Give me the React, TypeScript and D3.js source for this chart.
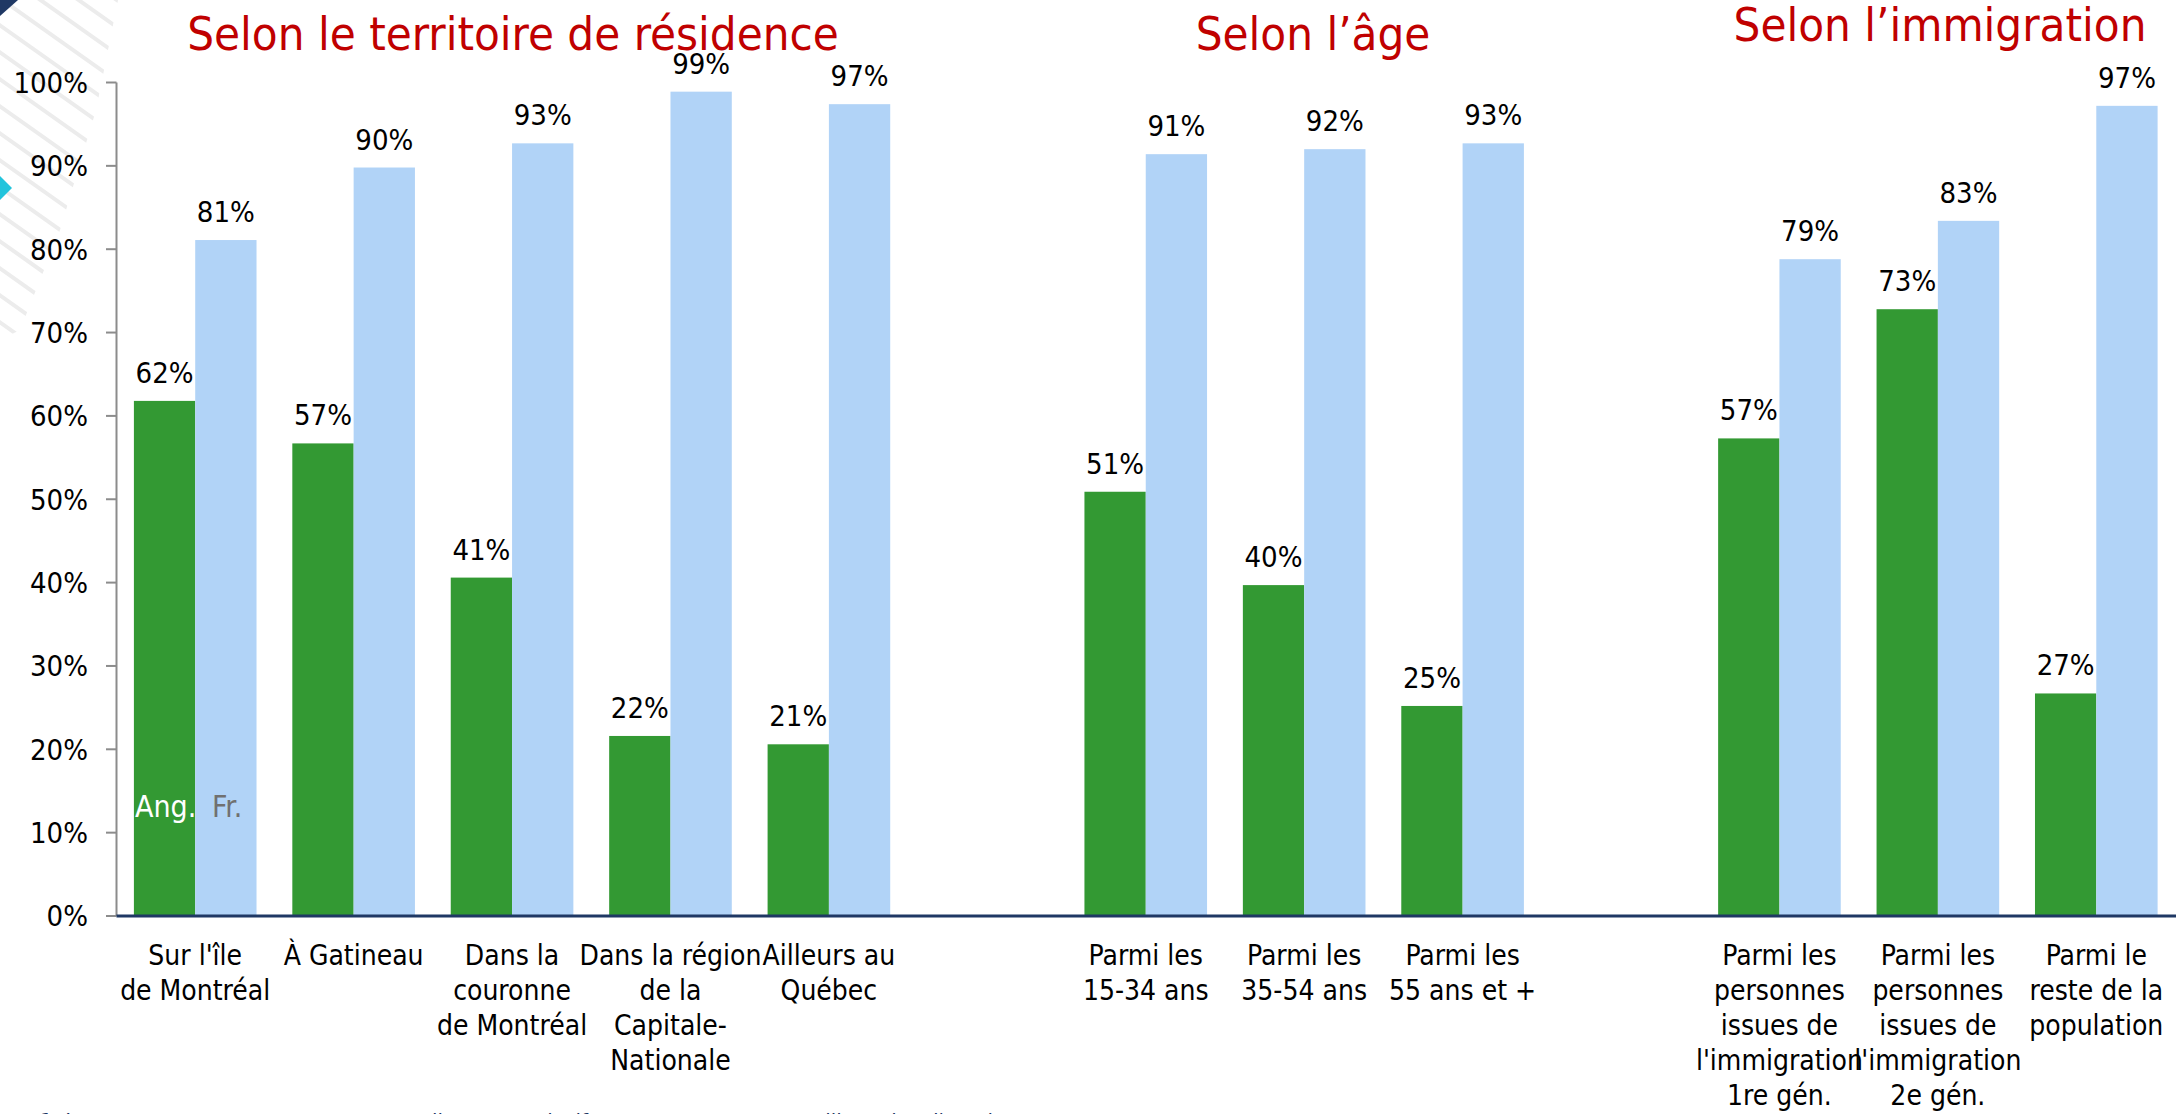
import React from "react";
import * as d3 from "d3";

// ---- data ----
const groupTitles = ["Selon le territoire de résidence", "Selon l’âge", "Selon l’immigration"];
const groupCategories = [
  ["Sur l'île\nde Montréal", "À Gatineau", "Dans la\ncouronne\nde Montréal", "Dans la région\nde la\nCapitale-\nNationale", "Ailleurs au\nQuébec"],
  ["Parmi les\n15-34 ans", "Parmi les\n35-54 ans", "Parmi les\n55 ans et +"],
  ["Parmi les\npersonnes\nissues de\nl'immigration\n1re gén.", "Parmi les\npersonnes\nissues de\nl'immigration\n2e gén.", "Parmi le\nreste de la\npopulation"],
];
const angValues = [
  [61.8, 56.7, 40.6, 21.6, 20.6],
  [50.9, 39.7, 25.2],
  [57.3, 72.8, 26.7],
];
const frValues = [
  [81.1, 89.8, 92.7, 98.9, 97.4],
  [91.4, 92.0, 92.7],
  [78.8, 83.4, 97.2],
];
const seriesNames = ["Ang.", "Fr."];
const yTicks = [0, 10, 20, 30, 40, 50, 60, 70, 80, 90, 100];
const footnote = "1.  Les pourcentages ne sont pas mutuellement exclusifs; une personne peut utiliser plus d'une langue.";

// ---- layout ----
const W = 2184;
const H = 1114;
const FONT = "'DejaVu Sans Condensed', 'DejaVu Sans', sans-serif";
const GREEN = "#339933";
const BLUE = "#B1D3F7";
const RED = "#C00000";
const NAVY = "#1F3864";

type Slot = { id: string; g: number; i: number };

export default function App() {
  const slots: Slot[] = [];
  groupCategories.forEach((cats, g) => {
    if (g > 0) slots.push({ id: `gap${g}`, g: -1, i: -1 });
    cats.forEach((_, i) => slots.push({ id: `c${g}_${i}`, g, i }));
  });

  const x = d3.scaleBand<string>().domain(slots.map((s) => s.id)).range([116, 2175.5]).padding(0);
  const sub = d3.scaleBand<string>().domain(seriesNames).range([0, x.bandwidth()]).paddingInner(0).paddingOuter(0.292);
  const y = d3.scaleLinear().domain([0, 100]).range([916, 82.5]);

  const fmt = (v: number) => `${Math.round(v)}%`;

  const catSlots = slots.filter((s) => s.g >= 0);

  const titlePos = [
    { x: 513, y: 50 },
    { x: 1313, y: 50 },
    { x: 1940, y: 41 },
  ];

  const stripes = d3.range(-6, 14);

  return (
    <div style={{ position: "fixed", left: 0, top: 0, width: W, height: H, overflow: "hidden", background: "#fff" }}>
      <svg width={W} height={H} style={{ display: "block" }} fontFamily={FONT}>
        <defs>
          <clipPath id="stripeClip">
            <polygon points="0,0 118,0 96,110 60,230 20,330 0,340" />
          </clipPath>
        </defs>
        <g clipPath="url(#stripeClip)">
          {stripes.map((k) => (
            <line key={k} x1={-40} y1={k * 27 - 30} x2={200} y2={k * 27 - 30 + 170} stroke="#ececec" strokeWidth={4} />
          ))}
        </g>
        <polygon points="0,0 18,0 0,16" fill={NAVY} />
        <polygon points="0,176 12,188 0,200" fill="#22C4DC" />

        {groupTitles.map((t, g) => (
          <text key={t} x={titlePos[g].x} y={titlePos[g].y} textAnchor="middle" fill={RED} fontSize={47}>
            {t}
          </text>
        ))}

        {catSlots.map((s) => {
          const x0 = x(s.id)!;
          const vals = [angValues[s.g][s.i], frValues[s.g][s.i]];
          return (
            <g key={s.id}>
              {vals.map((v, k) => {
                const bx = x0 + sub(seriesNames[k])!;
                return (
                  <g key={k}>
                    <rect x={bx} y={y(v)} width={sub.bandwidth()} height={y(0) - y(v)} fill={k === 0 ? GREEN : BLUE} />
                    <text x={bx + sub.bandwidth() / 2} y={y(v) - 18} textAnchor="middle" fontSize={29} fill="#000">
                      {fmt(v)}
                    </text>
                  </g>
                );
              })}
            </g>
          );
        })}

        <text x={135} y={817} fontSize={30} fill="#fff">{seriesNames[0]}</text>
        <text x={212} y={817} fontSize={30} fill="#707070">{seriesNames[1]}</text>

        <line x1={116.5} x2={116.5} y1={y(100)} y2={y(0)} stroke="#8c8c8c" strokeWidth={2} />
        {yTicks.map((t) => (
          <g key={t}>
            <line x1={106} x2={116.5} y1={y(t)} y2={y(t)} stroke="#8c8c8c" strokeWidth={2} />
            <text x={88} y={y(t)} dy="0.36em" textAnchor="end" fontSize={29} fill="#000">
              {t}%
            </text>
          </g>
        ))}
        <line x1={116.5} x2={2176} y1={y(0)} y2={y(0)} stroke={NAVY} strokeWidth={3} />

        {catSlots.map((s) => {
          const cx = x(s.id)! + x.bandwidth() / 2;
          const lines = groupCategories[s.g][s.i].split("\n");
          return (
            <text key={s.id} x={cx} y={965} textAnchor="middle" fontSize={28} fill="#000">
              {lines.map((l, j) => (
                <tspan key={j} x={cx} y={965 + j * 35}>
                  {l}
                </tspan>
              ))}
            </text>
          );
        })}

        <text x={40} y={1129} fontSize={22} fill={NAVY}>{footnote}</text>
      </svg>
    </div>
  );
}
